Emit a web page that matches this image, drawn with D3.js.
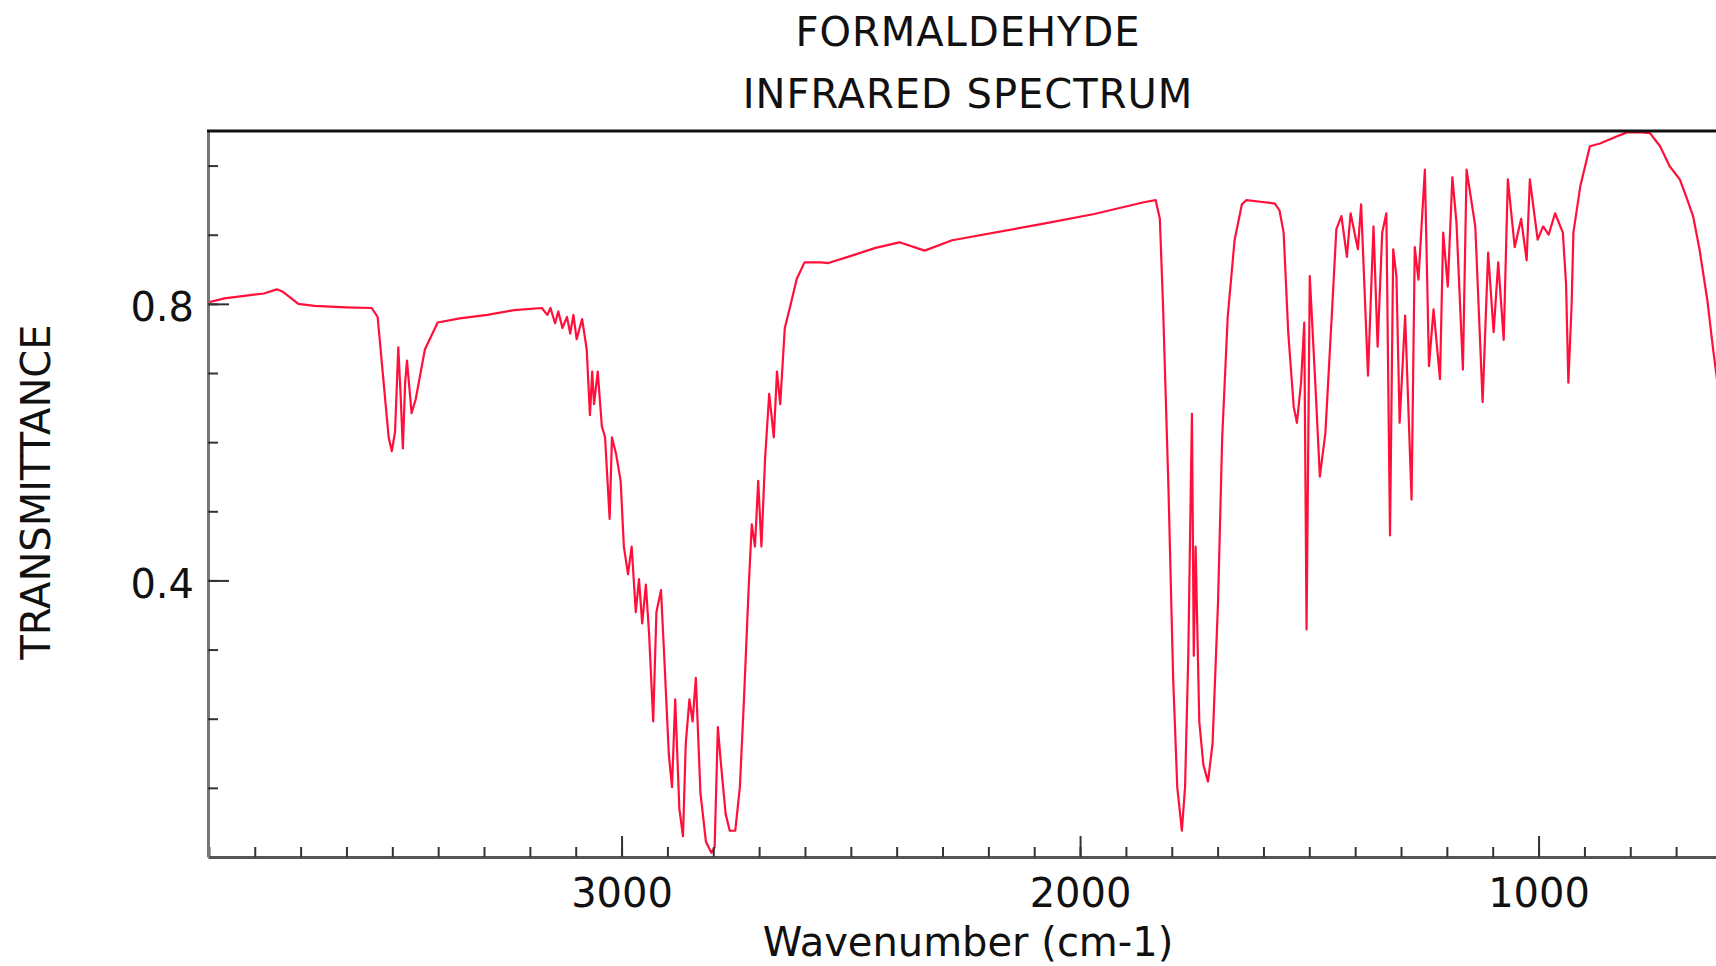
<!DOCTYPE html>
<html>
<head>
<meta charset="utf-8">
<script src="https://cdn.jsdelivr.net/npm/d3@7"></script>
<style>
  html, body { margin: 0; padding: 0; background: #fff; }
  svg text { font-family: "DejaVu Sans", Verdana, sans-serif; fill: #111; }
</style>
</head>
<body>
<svg id="chart" width="1716" height="966"></svg>
<script>
// wavenumber (cm-1), high to low
const wavenumber = [
  3902, 3866, 3780, 3752, 3740, 3728, 3705, 3670, 3600, 3545,
  3532, 3520, 3508, 3501, 3494, 3487, 3482, 3477, 3472, 3468,
  3458, 3449, 3429, 3401, 3353, 3293, 3234, 3174, 3162, 3155,
  3145, 3138, 3129, 3119, 3112, 3105, 3098, 3086, 3076, 3069,
  3064, 3060, 3052, 3043, 3036, 3026, 3021, 3012, 3002, 2995,
  2986, 2978, 2969, 2962, 2955, 2947, 2940, 2931, 2924, 2914,
  2907, 2897, 2890, 2883, 2874, 2866, 2860, 2852, 2845, 2838,
  2828, 2816, 2804, 2797, 2790, 2783, 2773, 2764, 2752, 2742,
  2733, 2723, 2716, 2709, 2702, 2695, 2687, 2678, 2668, 2661,
  2654, 2644, 2632, 2618, 2601, 2585, 2565, 2549, 2530, 2506,
  2446, 2394, 2339, 2279, 2088, 1969, 1861, 1835, 1826, 1819,
  1807, 1797, 1788, 1778, 1771, 1764, 1756, 1752, 1748, 1740,
  1731, 1721, 1711, 1699, 1690, 1678, 1663, 1647, 1637, 1611,
  1575, 1565, 1556, 1546, 1534, 1527, 1518, 1511, 1506, 1499,
  1487, 1477, 1465, 1451, 1441, 1430, 1418, 1410, 1394, 1387,
  1372, 1360, 1351, 1341, 1332, 1324, 1317, 1310, 1303, 1291,
  1277, 1270, 1262, 1248, 1239, 1229, 1215, 1208, 1198, 1188,
  1179, 1165, 1157, 1138, 1122, 1110, 1098, 1088, 1076, 1067,
  1052, 1038, 1026, 1019, 1002, 990, 978, 964, 947, 940,
  935, 928, 924, 909, 888, 866, 830, 807, 776, 757,
  735, 714, 692, 678, 663, 649, 632, 620, 597
];

// transmittance at each wavenumber
const transmittance = [
  0.802, 0.808, 0.815, 0.821, 0.818, 0.812, 0.800, 0.797, 0.795, 0.794,
  0.781, 0.694, 0.607, 0.587, 0.615, 0.737, 0.670, 0.591, 0.686, 0.718,
  0.642, 0.662, 0.734, 0.773, 0.779, 0.784, 0.791, 0.794, 0.784, 0.794,
  0.772, 0.789, 0.765, 0.781, 0.757, 0.784, 0.749, 0.778, 0.734, 0.639,
  0.702, 0.655, 0.702, 0.623, 0.607, 0.489, 0.607, 0.583, 0.544, 0.449,
  0.409, 0.449, 0.354, 0.402, 0.338, 0.394, 0.323, 0.196, 0.354, 0.386,
  0.291, 0.149, 0.101, 0.228, 0.070, 0.030, 0.164, 0.228, 0.196, 0.259,
  0.093, 0.022, 0.006, 0.014, 0.188, 0.133, 0.062, 0.038, 0.038, 0.101,
  0.228, 0.386, 0.481, 0.449, 0.544, 0.449, 0.576, 0.670, 0.607, 0.702,
  0.655, 0.765, 0.797, 0.836, 0.860, 0.860, 0.860, 0.859, 0.863, 0.868,
  0.881, 0.889, 0.877, 0.892, 0.915, 0.930, 0.947, 0.950, 0.923, 0.797,
  0.528, 0.259, 0.101, 0.038, 0.101, 0.291, 0.641, 0.291, 0.449, 0.196,
  0.133, 0.109, 0.164, 0.370, 0.607, 0.781, 0.892, 0.944, 0.950, 0.948,
  0.945, 0.935, 0.903, 0.759, 0.651, 0.628, 0.686, 0.773, 0.329, 0.840,
  0.686, 0.550, 0.613, 0.783, 0.908, 0.927, 0.868, 0.931, 0.879, 0.944,
  0.696, 0.912, 0.738, 0.903, 0.931, 0.465, 0.879, 0.840, 0.628, 0.783,
  0.517, 0.882, 0.835, 0.994, 0.710, 0.792, 0.691, 0.903, 0.825, 0.983,
  0.917, 0.705, 0.994, 0.912, 0.658, 0.874, 0.759, 0.860, 0.748, 0.980,
  0.882, 0.923, 0.863, 0.980, 0.893, 0.912, 0.900, 0.931, 0.903, 0.828,
  0.686, 0.797, 0.903, 0.970, 1.028, 1.032, 1.042, 1.048, 1.048, 1.047,
  1.028, 0.999, 0.980, 0.955, 0.927, 0.879, 0.806, 0.738, 0.620
];

const xTickLabels = [3000, 2000, 1000];
const yTickLabels = [0.4, 0.8];
const xMinorTicks = d3.range(3900, 600, -100);
const yMinorTicks = d3.range(1, 11).map(d => d / 10);

const svg = d3.select("#chart");
const W = 1716, H = 966;
const plot = {left: 208, top: 131, bottom: 857};

const x = d3.scaleLinear().domain([3902, 613]).range([plot.left, W]);
const y = d3.scaleLinear().domain([0, 1.05]).range([plot.bottom, plot.top]);

// titles
svg.append("text").attr("x", 968).attr("y", 46)
  .attr("text-anchor", "middle").style("font-size", "40px").style("letter-spacing", "1px")
  .text("FORMALDEHYDE");
svg.append("text").attr("x", 968).attr("y", 108)
  .attr("text-anchor", "middle").style("font-size", "40px").style("letter-spacing", "1px")
  .text("INFRARED SPECTRUM");

// spectrum
svg.append("clipPath").attr("id", "clip")
  .append("rect")
  .attr("x", plot.left).attr("y", plot.top - 2)
  .attr("width", W - plot.left).attr("height", plot.bottom - plot.top + 2);

const pts = wavenumber.map((w, i) => [w, transmittance[i]]);
const line = d3.line().x(d => x(d[0])).y(d => y(d[1]));

svg.append("path")
  .datum(pts)
  .attr("clip-path", "url(#clip)")
  .attr("fill", "none")
  .attr("stroke", "#ff0f3a")
  .attr("stroke-width", 2.2)
  .attr("stroke-linejoin", "round")
  .attr("d", line);

// x axis, minor and major ticks point into the plot
const gx = svg.append("g").attr("transform", "translate(0," + plot.bottom + ")");
gx.call(d3.axisBottom(x).tickValues(xMinorTicks).tickSize(-10).tickSizeOuter(0).tickFormat(""));
gx.select(".domain").attr("stroke", "#555").attr("stroke-width", 3);
const gx2 = svg.append("g").attr("transform", "translate(0," + plot.bottom + ")");
gx2.call(d3.axisBottom(x).tickValues(xTickLabels).tickSize(-21).tickSizeOuter(0).tickPadding(22).tickFormat(d3.format("d")));
gx2.select(".domain").remove();
gx2.selectAll("text").style("font-size", "40px").attr("fill", "#111");

// y axis
const gy = svg.append("g").attr("transform", "translate(" + plot.left + ",0)");
gy.call(d3.axisLeft(y).tickValues(yMinorTicks).tickSize(-10).tickSizeOuter(0).tickFormat(""));
gy.select(".domain").attr("stroke", "#777").attr("stroke-width", 3);
const gy2 = svg.append("g").attr("transform", "translate(" + plot.left + ",0)");
gy2.call(d3.axisLeft(y).tickValues(yTickLabels).tickSize(-21).tickSizeOuter(0).tickPadding(14).tickFormat(d3.format(".1f")));
gy2.select(".domain").remove();
gy2.selectAll("text").style("font-size", "40px").attr("dy", "0.42em").attr("fill", "#111");
svg.selectAll("g.tick line").attr("stroke", "#333").attr("stroke-width", 2);

// top frame line
svg.append("line")
  .attr("x1", plot.left - 1).attr("x2", W)
  .attr("y1", plot.top).attr("y2", plot.top)
  .attr("stroke", "#111").attr("stroke-width", 3);

// axis labels
svg.append("text")
  .attr("transform", "translate(50,492) rotate(-90)")
  .attr("text-anchor", "middle").style("font-size", "40px")
  .text("TRANSMITTANCE");
svg.append("text").attr("x", 968).attr("y", 956)
  .attr("text-anchor", "middle").style("font-size", "40px")
  .text("Wavenumber (cm-1)");
</script>
</body>
</html>
